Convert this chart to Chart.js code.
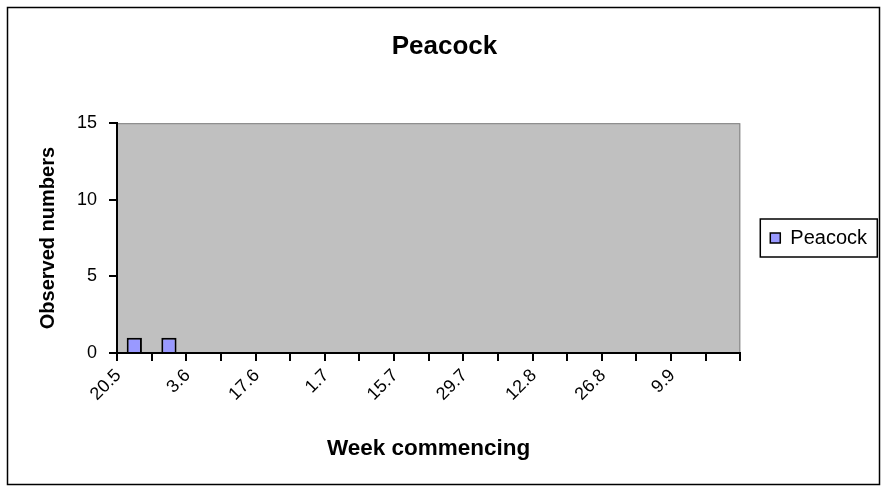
<!DOCTYPE html>
<html>
<head>
<meta charset="utf-8">
<script src="https://cdn.jsdelivr.net/npm/chart.js@4"></script>
<style>
  html, body { margin: 0; padding: 0; background: #fff; }
  #wrap { width: 886px; height: 492px; }
</style>
</head>
<body>
<div id="wrap"><canvas id="chartPeacock" width="886" height="492"></canvas></div>
<script>
const weeks = ['20.5', '27.5', '3.6', '10.6', '17.6', '24.6', '1.7', '8.7', '15.7',
  '22.7', '29.7', '5.8', '12.8', '19.8', '26.8', '2.9', '9.9', '16.9'];
const peacockCounts = [1, 1, 0, 0, 0, 0, 0, 0, 0, 0, 0, 0, 0, 0, 0, 0, 0, 0];
const yTicks = [0, 5, 10, 15];

const font = 'Arial, "Liberation Sans", sans-serif';

// frame, plot background and legend border
const framePlugin = {
  id: 'frame',
  beforeDraw(chart) {
    const { ctx, chartArea: a } = chart;
    ctx.save();
    ctx.fillStyle = '#fff';
    ctx.fillRect(0, 0, chart.width, chart.height);
    ctx.strokeStyle = '#000';
    ctx.lineWidth = 1.5;
    ctx.strokeRect(7.5, 7.5, 872, 477);
    ctx.fillStyle = '#c0c0c0';
    ctx.fillRect(a.left, a.top, a.right - a.left, a.bottom - a.top);
    ctx.strokeStyle = '#808080';
    ctx.lineWidth = 1;
    ctx.strokeRect(a.left, a.top + 0.5, a.right - a.left - 0.5, a.bottom - a.top);
    ctx.restore();
  },
  afterDraw(chart) {
    const lg = chart.legend;
    if (!lg || !lg.legendHitBoxes.length) return;
    const hb = lg.legendHitBoxes[0];
    const { ctx } = chart;
    ctx.save();
    ctx.strokeStyle = '#000';
    ctx.lineWidth = 1.5;
    ctx.strokeRect(hb.left - 10, hb.top - 9, 117, hb.height + 18);
    ctx.restore();
  }
};

const ctx = document.getElementById('chartPeacock').getContext('2d');
const chart = new Chart(ctx, {
  type: 'bar',
  data: {
    labels: weeks,
    datasets: [{
      label: 'Peacock',
      data: peacockCounts,
      backgroundColor: '#9999ff',
      borderColor: '#000',
      borderWidth: 2,
      categoryPercentage: 1,
      barPercentage: 0.44
    }]
  },
  options: {
    responsive: false,
    animation: false,
    layout: { padding: { left: 12, right: 9, top: 14, bottom: 30 } },
    plugins: {
      title: {
        display: true,
        text: 'Peacock',
        color: '#000',
        font: { family: font, size: 26, weight: 'bold' },
        padding: { top: 17, bottom: 61 }
      },
      legend: {
        position: 'right',
        labels: {
          color: '#000',
          boxWidth: 10,
          boxHeight: 10,
          padding: 30,
          font: { family: font, size: 20 },
          generateLabels(c) {
            return [{
              text: 'Peacock',
              fillStyle: '#9999ff',
              strokeStyle: '#000',
              lineWidth: 1.5,
              datasetIndex: 0
            }];
          }
        }
      },
      tooltip: { enabled: false }
    },
    scales: {
      x: {
        grid: { drawOnChartArea: false, drawTicks: true, tickLength: 8, color: '#000', lineWidth: 2, offset: true },
        border: { color: '#000', width: 2 },
        ticks: {
          autoSkip: false,
          maxRotation: 45,
          minRotation: 45,
          color: '#000',
          font: { family: font, size: 18 },
          padding: 4,
          labelOffset: -16,
          callback: (v, i) => (i % 2 === 0 ? weeks[i] : '')
        },
        title: {
          display: true,
          text: 'Week commencing',
          color: '#000',
          font: { family: font, size: 22.5, weight: 'bold' },
          padding: { top: 26, bottom: 0 }
        }
      },
      y: {
        min: 0,
        max: 15,
        afterBuildTicks: (s) => { s.ticks = yTicks.map(v => ({ value: v })); },
        grid: { drawOnChartArea: false, drawTicks: true, tickLength: 8, color: '#000', lineWidth: 2 },
        border: { color: '#000', width: 2 },
        ticks: {
          color: '#000',
          font: { family: font, size: 18 },
          padding: 12
        },
        title: {
          display: true,
          text: 'Observed numbers',
          color: '#000',
          font: { family: font, size: 20, weight: 'bold' },
          padding: { top: 24, bottom: 0 }
        },
        afterFit: (s) => { s.width = 105; }
      }
    }
  },
  plugins: [framePlugin]
});
</script>
</body>
</html>
